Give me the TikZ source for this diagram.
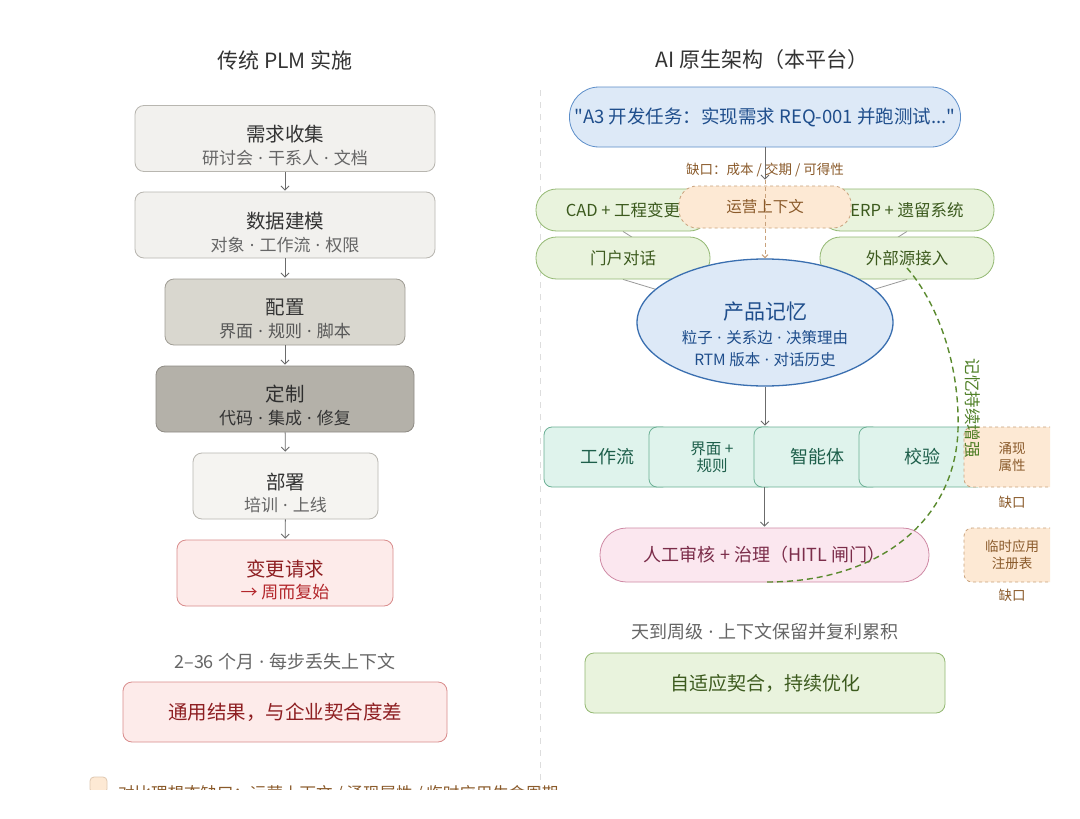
\documentclass[tikz,border=0pt]{standalone}
\usepackage{fontspec}
\setmainfont{Noto Sans CJK SC}
\newfontfamily\qfont{Noto Sans CJK SC}
\newfontfamily\latfnt{Noto Sans}
\usetikzlibrary{arrows.meta,shapes.geometric}
\pgfdeclarelayer{bg}
\pgfsetlayers{bg,main}
\newcommand{\myfs}[1]{\fontsize{#1pt}{#1pt}\selectfont}
\newcommand{\md}{\hspace{0.3em}{\latfnt ·}\hspace{0.3em}}
\newcommand{\sq}{{\qfont\char34}}
\definecolor{tdark}{HTML}{333333}
\definecolor{tgray}{HTML}{666666}
\definecolor{lgfill}{HTML}{F2F1EE}
\definecolor{lgdraw}{HTML}{B8B6B0}
\definecolor{mgfill}{HTML}{D9D7CF}
\definecolor{mgdraw}{HTML}{A09D95}
\definecolor{dgfill}{HTML}{B4B1A9}
\definecolor{dgdraw}{HTML}{8F8C85}
\definecolor{rdfill}{HTML}{FDEBEA}
\definecolor{rddraw}{HTML}{D98C8C}
\definecolor{rdtext}{HTML}{8E1F22}
\definecolor{rdtext2}{HTML}{B3262B}
\definecolor{blfill}{HTML}{DDE9F7}
\definecolor{bldraw}{HTML}{5B8DC9}
\definecolor{bldraw2}{HTML}{3A6FB0}
\definecolor{bltext}{HTML}{1F4E8C}
\definecolor{grfill}{HTML}{E9F3DD}
\definecolor{grdraw}{HTML}{93B872}
\definecolor{grtext}{HTML}{3C5A1E}
\definecolor{orfill}{HTML}{FDE9D4}
\definecolor{ordraw}{HTML}{C9A27C}
\definecolor{ortext}{HTML}{8A5A2A}
\definecolor{tlfill}{HTML}{DFF3EC}
\definecolor{tldraw}{HTML}{6AAF94}
\definecolor{tltext}{HTML}{1E5F4B}
\definecolor{pkfill}{HTML}{FBE7EF}
\definecolor{pkdraw}{HTML}{CF8AA5}
\definecolor{pktext}{HTML}{7B2D4A}
\definecolor{arrowgray}{HTML}{6B6B6B}
\definecolor{linegray}{HTML}{9A9A9A}
\definecolor{divgray}{HTML}{DDDDDD}
\definecolor{curvegreen}{HTML}{5A8A2E}
\definecolor{labelgreen}{HTML}{4F7F26}
\begin{document}
\begin{tikzpicture}[x=1pt,y=-1pt,
  lbox/.style={rounded corners=9pt, line width=0.8pt, inner sep=0pt},
  txt/.style={inner sep=0pt, align=center},
  arr/.style={draw=arrowgray, line width=0.9pt, -{Straight Barb[length=4pt,width=8pt]}, shorten >=1pt},
  gpill/.style={lbox, rounded corners=20.5pt, fill=grfill, draw=grdraw, minimum width=174pt, minimum height=42pt, text=grtext, font=\myfs{16.5}},
  opbox/.style={lbox, dashed, fill=orfill, draw=ordraw, text=ortext},
  rowbox/.style={lbox, rounded corners=8pt, fill=tlfill, draw=tldraw, minimum width=126pt, minimum height=60pt, text=tltext, font=\myfs{18}, align=center},
  ttl/.style={txt, font=\myfs{21}, text=tdark},
  btitle/.style={txt, font=\myfs{19.5}},
  bsub/.style={txt, font=\myfs{17}}
]
\useasboundingbox (0,0) rectangle (1080,819);
\begin{pgfonlayer}{bg}
  \fill[white] (0,0) rectangle (1080,819);
\end{pgfonlayer}
\begin{scope}
\clip (0,0) rectangle (1050,789);

% divider
\draw[divgray, line width=1pt, dash pattern=on 6pt off 6pt] (540,90) -- (540,800);

% titles
\node[ttl] (lt) at (285,60) {传统 PLM 实施};
\node[ttl] (rt) at (762,60) {AI 原生架构（本平台）};

% ---------- left column ----------
\node[lbox, fill=lgfill, draw=lgdraw, minimum width=300pt, minimum height=66pt] (b1) at (285,138.5) {};
\node[btitle, text=tdark] (b1t) at (285,134) {需求收集};
\node[bsub, text=tgray] (b1s) at (285,158.5) {研讨会\md 干系人\md 文档};

\node[lbox, fill=lgfill, draw=lgdraw, minimum width=300pt, minimum height=66pt] (b2) at (285,225) {};
\node[btitle, text=tdark] (b2t) at (285,221) {数据建模};
\node[bsub, text=tgray] (b2s) at (285,245) {对象\md 工作流\md 权限};

\node[lbox, fill=mgfill, draw=mgdraw, minimum width=240pt, minimum height=66pt] (b3) at (285,312) {};
\node[btitle, text=tdark] (b3t) at (285,307.5) {配置};
\node[bsub, text=tgray!85!black] (b3s) at (285,331) {界面\md 规则\md 脚本};

\node[lbox, fill=dgfill, draw=dgdraw, minimum width=258pt, minimum height=66pt] (b4) at (285,399) {};
\node[btitle, text=tdark!90!black] (b4t) at (285,394) {定制};
\node[bsub, text=tdark] (b4s) at (285,418) {代码\md 集成\md 修复};

\node[lbox, fill=lgfill!80!white, draw=lgdraw, minimum width=185pt, minimum height=66pt] (b5) at (285.5,486) {};
\node[btitle, text=tdark] (b5t) at (285.5,482) {部署};
\node[bsub, text=tgray] (b5s) at (285.5,505) {培训\md 上线};

\node[lbox, fill=rdfill, draw=rddraw, minimum width=216pt, minimum height=66pt] (b6) at (285,573) {};
\node[btitle, text=rdtext] (b6t) at (285,569) {变更请求};
\node[bsub, text=rdtext2] (b6s) at (285,592) {→ 周而复始};

\draw[arr] (b1) -- (b2);
\draw[arr] (b2) -- (b3);
\draw[arr] (b3) -- (b4);
\draw[arr] (b4) -- (b5);
\draw[arr] (b5) -- (b6);

\node[txt, font=\myfs{18}, text=tgray] (lnote) at (285,662) {2–36 个月\md 每步丢失上下文};
\node[lbox, fill=rdfill, draw=rddraw, minimum width=324pt, minimum height=60pt, text=rdtext, font=\myfs{19.5}] (lres) at (285,712) {通用结果，与企业契合度差};

% ---------- right column ----------
\node[lbox, rounded corners=29.5pt, fill=blfill, draw=bldraw, minimum width=391pt, minimum height=60pt, text=bltext, font=\myfs{18.5}] (top) at (765,117) {\sq A3 开发任务：实现需求 REQ-001 并跑测试...\sq};

\node[gpill] (cad) at (623,210) {CAD + 工程变更};
\node[gpill] (erp) at (907,210) {ERP + 遗留系统};
\node[gpill] (portal) at (623,258) {门户对话};
\node[gpill] (ext) at (907,258) {外部源接入};

\node[opbox, rounded corners=18pt, minimum width=172pt, minimum height=42pt, font=\myfs{15.5}] (op) at (765,207) {运营上下文};

\node[ellipse, fill=blfill, draw=bldraw2, line width=1.3pt, minimum width=256pt, minimum height=127pt, inner sep=0pt] (mem) at (765,322.5) {};
\node[txt, font=\myfs{21}, text=bltext] (memt) at (765,312) {产品记忆};
\node[txt, font=\myfs{15.5}, text=bltext] (mems1) at (765,338) {粒子\md 关系边\md 决策理由};
\node[txt, font=\myfs{15.5}, text=bltext] (mems2) at (765,360) {RTM 版本\md 对话历史};

\begin{pgfonlayer}{bg}
  \draw[linegray, line width=0.8pt] (cad.south) -- (mem.center);
  \draw[linegray, line width=0.8pt] (portal.south) -- (mem.center);
  \draw[linegray, line width=0.8pt] (erp.south) -- (mem.center);
  \draw[linegray, line width=0.8pt] (ext.south) -- (mem.center);
\end{pgfonlayer}

\draw[arr, shorten >=6pt] (top) -- (op);
\node[txt, font=\myfs{13.5}, text=ortext] (gaplbl) at (765,170) {缺口：成本 / 交期 / 可得性};
\draw[ordraw, line width=1pt, dash pattern=on 4pt off 3pt, -{Straight Barb[length=3pt,width=6pt]}] ([yshift=6pt]op.north) -- (mem.north);

\node[rowbox] (r1) at (607,457) {工作流};
\node[rowbox, font=\fontsize{15.5pt}{17pt}\selectfont] (r2) at (712,457) {界面 +\\规则};
\node[rowbox] (r3) at (817,457) {智能体};
\node[rowbox] (r4) at (922,457) {校验};

\draw[arr] (mem.south) -- (mem.south |- r3.north);

\node[opbox, rounded corners=8pt, minimum width=96pt, minimum height=60pt, font=\fontsize{13.5pt}{16.5pt}\selectfont, align=center] (em) at (1012,457) {涌现\\属性};
\node[txt, font=\myfs{13.5}, text=ortext] (gap1) at (1012,502) {缺口};

\node[lbox, rounded corners=26.5pt, fill=pkfill, draw=pkdraw, minimum width=329pt, minimum height=54pt, text=pktext, font=\myfs{18}] (hitl) at (764.5,555) {人工审核 + 治理（HITL 闸门）};
\draw[arr] (r3.south -| hitl.north) -- (hitl.north);

\node[opbox, rounded corners=8pt, minimum width=96pt, minimum height=54pt, font=\fontsize{13.5pt}{16.5pt}\selectfont, align=center] (reg) at (1012,555) {临时应用\\注册表};
\node[txt, font=\myfs{13.5}, text=ortext] (gap2) at (1012,595) {缺口};

\node[txt, font=\myfs{18}, text=tgray] (rnote) at (765,632) {天到周级\md 上下文保留并复利累积};
\node[lbox, fill=grfill, draw=grdraw, minimum width=360pt, minimum height=60pt, text=grtext, font=\myfs{19}] (adapt) at (765,683) {自适应契合，持续优化};

% memory feedback curve
\coordinate (cstart) at (767,582);
\coordinate (cmid) at (958,430);
\draw[curvegreen, line width=1.4pt, dash pattern=on 6pt off 4pt]
  (cstart) .. controls (880,582) and (955,520) .. (cmid)
  .. controls (960,360) and (935,300) .. ([yshift=-10pt]ext.center);
\node[txt, font=\myfs{16.5}, text=labelgreen, rotate=-90] (clbl) at (973,408) {记忆持续增强};

% legend (cropped)
\node[lbox, rounded corners=4pt, fill=orfill, draw=ordraw!60!white, minimum width=17pt, minimum height=16pt] (lg) at (98.5,785) {};
\node[txt, font=\myfs{16.5}, text=ortext, anchor=west] (lgt) at (118,794) {对比理想态缺口：运营上下文 / 涌现属性 / 临时应用生命周期};
\end{scope}
\end{tikzpicture}
\end{document}
